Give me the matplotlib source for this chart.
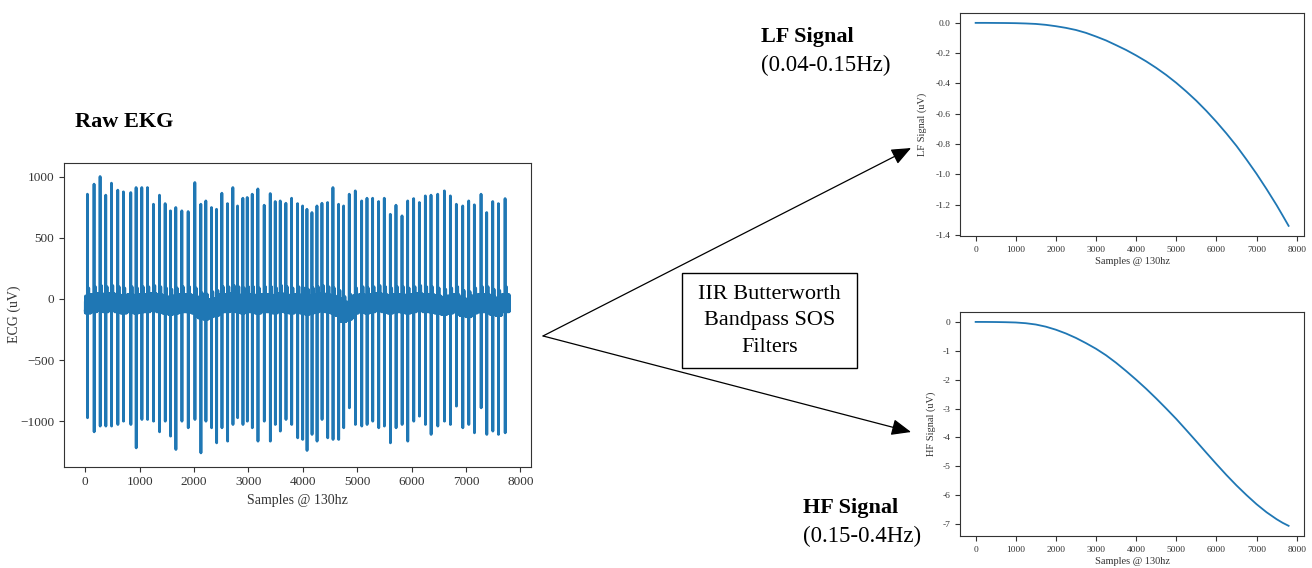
import numpy as np
import matplotlib
matplotlib.use("Agg")
import matplotlib.pyplot as plt
from matplotlib.patches import Rectangle, FancyArrowPatch
from matplotlib.ticker import FuncFormatter

plt.rcParams['font.family'] = ['Liberation Serif', 'DejaVu Serif']

# ---------------- data ----------------
n_samples = 7801
beat_pos = [40, 162, 273, 377, 482, 598, 702, 837, 935, 1040, 1144, 1254, 1365, 1469,
            1567, 1665, 1776, 1892, 2015, 2125, 2217, 2321, 2414, 2512, 2616, 2714, 2800,
            2898, 2978, 3070, 3174, 3290, 3401, 3493, 3585, 3689, 3794, 3904,
            3996, 4076, 4168, 4260, 4352, 4456, 4554, 4658, 4750, 4854, 4965, 5082, 5180,
            5284, 5394, 5498, 5609, 5713, 5824, 5928, 6038, 6143, 6253, 6357, 6480, 6603,
            6713, 6823, 6940, 7050, 7154, 7277, 7381, 7492, 7596, 7719]
r_peaks = [856, 938, 1000, 848, 946, 889, 875, 869, 910, 910, 910, 774, 848, 779,
           720, 747, 720, 714, 951, 774, 801, 747, 733, 864, 779, 910, 760,
           823, 829, 856, 899, 766, 861, 796, 801, 782, 823, 779,
           760, 733, 706, 760, 782, 788, 910, 774, 760, 856, 883, 801, 823,
           823, 796, 823, 692, 766, 679, 801, 820, 788, 842, 848, 856, 883,
           842, 774, 760, 801, 769, 856, 706, 796, 779, 820]
s_troughs = [-970, -1085, -1038, -1038, -1038, -1025, -998, -1025, -1216, -984, -984, -998,
             -1085, -998, -1120, -1229, -998, -1052, -984, -1257, -998, -1052, -1175, -1052,
             -1161, -1025, -970, -1025, -998, -1052, -1161, -998, -1161, -1025, -1079, -984,
             -1025, -1134,
             -1147, -1237, -1106, -1161, -984, -1134, -1147, -1147, -1052, -889, -1025,
             -1038, -1025, -998, -1052, -1038, -1175, -1052, -1025, -1161, -998, -957,
             -1025, -1106, -1038, -998, -1025, -875, -1052, -1025, -1093, -889, -1106,
             -1079, -1106, -1093]
baseline = [-40, -30, -20, -30, -20, -30, -40, -30, -40, -30, -30, -20, -30, -40,
            -50, -40, -30, -30, -40, -80, -90, -70, -60, -30, -30, -20, -30,
            -40, -30, -30, -40, -30, -30, -40, -20, -30, -40, -30,
            -40, -50, -40, -30, -20, -30, -40, -60, -110, -90, -40, -30, -40,
            -30, -20, -30, -40, -30, -30, -40, -30, -20, -30, -30, -40, -50,
            -40, -30, -60, -70, -40, -30, -30, -50, -60, -30]
wiggle = [35, -60, 20, -75, 50, -30, 65, -65, 10, -50, 45, -70]
p_wave = [20, 40, 60, 40, 20]
t_wave = [30, 60, 95, 120, 130, 120, 95, 60, 30]

lf_x = [0, 250, 500, 750, 1000, 1250, 1500, 1750, 2000, 2250, 2500, 2750, 3000, 3250,
        3500, 3750, 4000, 4250, 4500, 4750, 5000, 5250, 5500, 5750, 6000, 6250, 6500,
        6750, 7000, 7250, 7500, 7650, 7800]
lf_y = [0.0, 0.0, -0.0005, -0.001, -0.002, -0.004, -0.007, -0.013, -0.022, -0.033,
        -0.047, -0.066, -0.09, -0.116, -0.147, -0.179, -0.215, -0.254, -0.297, -0.344,
        -0.396, -0.453, -0.514, -0.581, -0.653, -0.730, -0.812, -0.902, -0.996, -1.097,
        -1.203, -1.271, -1.34]
hf_x = [0, 250, 500, 750, 1000, 1250, 1500, 1750, 2000, 2250, 2500, 2750, 3000, 3250,
        3500, 3750, 4000, 4250, 4500, 4750, 5000, 5250, 5500, 5750, 6000, 6250, 6500,
        6750, 7000, 7250, 7500, 7650, 7800]
hf_y = [0.0, -0.001, -0.004, -0.010, -0.020, -0.045, -0.090, -0.165, -0.270, -0.400,
        -0.555, -0.735, -0.930, -1.155, -1.415, -1.700, -2.000, -2.315, -2.650, -3.000,
        -3.360, -3.745, -4.135, -4.530, -4.920, -5.300, -5.660, -5.995, -6.310, -6.590,
        -6.830, -6.955, -7.060]

# ---------------- build raw trace from beat data ----------------
x = np.arange(n_samples)
sig = np.zeros(n_samples)
bounds = [0] + [int((a + b) / 2) for a, b in zip(beat_pos[:-1], beat_pos[1:])] + [n_samples]
wig = np.array(wiggle, dtype=float)
for i, p in enumerate(beat_pos):
    a, b = bounds[i], bounds[i + 1]
    idx = np.arange(a, b)
    sig[a:b] = baseline[i] + wig[idx % len(wig)]
    for k, v in enumerate(p_wave):
        j = p - 24 + k
        if 0 <= j < n_samples:
            sig[j] = baseline[i] + v
    for k, v in enumerate(t_wave):
        j = p + 20 + k
        if j < n_samples:
            sig[j] = baseline[i] + v
    if p - 2 >= 0:
        sig[p - 2] = baseline[i] - 80
    sig[p] = r_peaks[i]
    sig[p + 2] = s_troughs[i]
sig[0] = -100

# ---------------- figure ----------------
fig = plt.figure(figsize=(13.12, 5.68), dpi=100)
blue = '#1f77b4'
spine_c = '#333333'
txt_c = '#333333'

ax = fig.add_axes([0.0488, 0.1783, 0.3557, 0.5352])
ax.plot(x, sig, color=blue, lw=2.0)
ax.set_yticks([-1000, -500, 0, 500, 1000])
ax.set_xticks(range(0, 8001, 1000))
ax.tick_params(labelsize=9.5, colors=txt_c)
ax.set_xlabel('Samples @ 130hz', fontsize=10, color=txt_c)
ax.set_ylabel('ECG (uV)', fontsize=10, color=txt_c)
ax.yaxis.set_label_coords(-0.092, 0.5)

ax1 = fig.add_axes([0.7317, 0.5845, 0.2624, 0.3931])
ax1.plot(lf_x, lf_y, color=blue, lw=1.3)
ax1.set_yticks([-1.4, -1.2, -1.0, -0.8, -0.6, -0.4, -0.2, 0.0])
ax1.yaxis.set_major_formatter(FuncFormatter(lambda v, pos: '%.1f' % v))
ax1.set_xticks(range(0, 8001, 1000))
ax1.tick_params(labelsize=6.8, colors=txt_c)
ax1.set_xlabel('Samples @ 130hz', fontsize=7.5, color=txt_c, labelpad=2)
ax1.set_ylabel('LF Signal (uV)', fontsize=7.5, color=txt_c)
ax1.yaxis.set_label_coords(-0.096, 0.5)

ax2 = fig.add_axes([0.7317, 0.0563, 0.2624, 0.3949])
ax2.plot(hf_x, hf_y, color=blue, lw=1.3)
ax2.set_yticks(range(-7, 1))
ax2.yaxis.set_major_formatter(FuncFormatter(lambda v, pos: '%d' % round(v)))
ax2.set_xticks(range(0, 8001, 1000))
ax2.tick_params(labelsize=6.8, colors=txt_c)
ax2.set_xlabel('Samples @ 130hz', fontsize=7.5, color=txt_c, labelpad=2)
ax2.set_ylabel('HF Signal (uV)', fontsize=7.5, color=txt_c)
ax2.yaxis.set_label_coords(-0.07, 0.5)

for a in (ax, ax1, ax2):
    for s in a.spines.values():
        s.set_color(spine_c)

# titles / annotations
fig.text(0.0572, 0.7852, 'Raw EKG', fontsize=16, fontweight='bold', va='center', ha='left')
fig.text(0.5800, 0.9354, 'LF Signal', fontsize=16, fontweight='bold', va='center', ha='left')
fig.text(0.5800, 0.8856, '(0.04-0.15Hz)', fontsize=16.5, va='center', ha='left')
fig.text(0.6120, 0.1051, 'HF Signal', fontsize=16, fontweight='bold', va='center', ha='left')
fig.text(0.6120, 0.0551, '(0.15-0.4Hz)', fontsize=16.5, va='center', ha='left')

start = (0.4139, 0.4085)
for tip in [(0.6944, 0.7394), (0.6944, 0.2394)]:
    fig.add_artist(FancyArrowPatch(
        start, tip, transform=fig.transFigure, arrowstyle='-|>,head_length=12,head_width=5',
        mutation_scale=1, color='black', lw=0.9, shrinkA=0, shrinkB=0))

fig.add_artist(Rectangle((0.5201, 0.3516), 0.1329, 0.1673, transform=fig.transFigure,
                         fill=True, facecolor='white', edgecolor='black', lw=1.0))
fig.text(0.5865, 0.4352, 'IIR Butterworth\nBandpass SOS\nFilters', fontsize=16,
         ha='center', va='center', linespacing=1.55)

fig.savefig('out.png', dpi=100)
